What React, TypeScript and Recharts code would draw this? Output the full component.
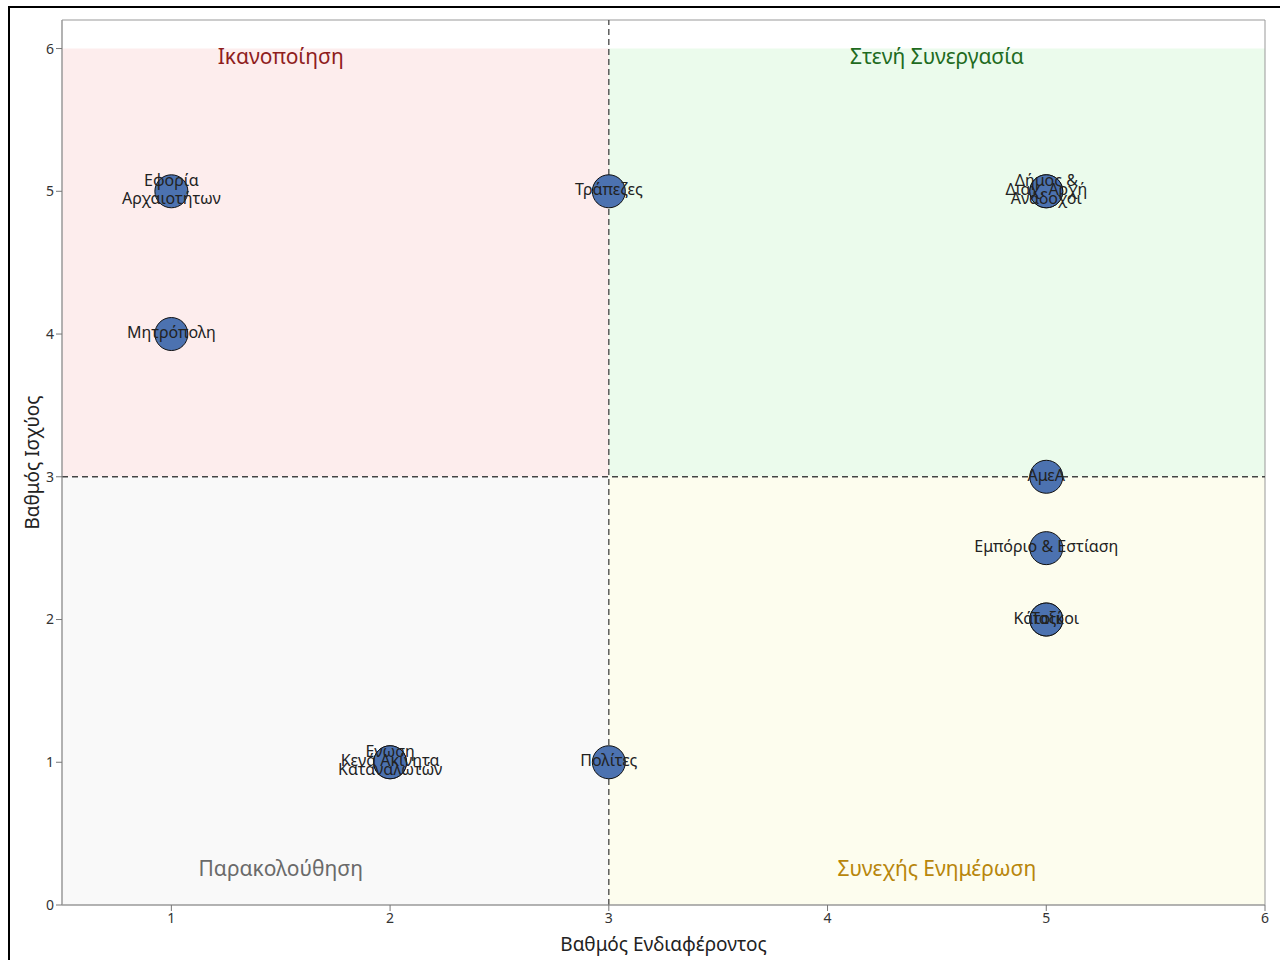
import React from 'react';
import {
  ScatterChart,
  Scatter,
  XAxis,
  YAxis,
  ReferenceArea,
  ReferenceLine,
  ReferenceDot,
} from 'recharts';

// ---- data ----
const stakeholderNames = [
  'Εφορία\nΑρχαιοτήτων',
  'Μητρόπολη',
  'Τράπεζες',
  'Δήμος &\nΑνάδοχοι',
  'Διαχ. Αρχή',
  'ΑμεΑ',
  'Εμπόριο & Εστίαση',
  'Κάτοικοι',
  'Ταξί',
  'Ενωση\nΚαταναλωτών',
  'Κενά Ακίνητα',
  'Πολίτες',
];
const interestValues = [1, 1, 3, 5, 5, 5, 5, 5, 5, 2, 2, 3];
const powerValues = [5, 4, 5, 5, 5, 3, 2.5, 2, 2, 1, 1, 1];

const xTicks = [1, 2, 3, 4, 5, 6];
const yTicks = [0, 1, 2, 3, 4, 5, 6];
const xDomain: [number, number] = [0.5, 6];
const yDomain: [number, number] = [0, 6.2];
const midValue = 3;
const quadrantTop = 6;

const quadrantNames = ['Ικανοποίηση', 'Στενή Συνεργασία', 'Παρακολούθηση', 'Συνεχής Ενημέρωση'];
const quadrantLabelX = [1.5, 4.5, 1.5, 4.5];
const quadrantLabelY = [5.95, 5.95, 0.26, 0.26];

const points = stakeholderNames.map((name, i) => ({
  name,
  x: interestValues[i],
  y: powerValues[i],
}));

const FONT = "'Noto Sans', 'DejaVu Sans', sans-serif";
const quadrantColors = ['#8f1d1d', '#1f6b1f', '#6a6a6a', '#b8860b'];

const CircleShape = (props: any) => {
  const { cx, cy } = props;
  if (cx == null || cy == null) return null;
  return <circle cx={cx} cy={cy} r={16.5} fill="#4c72b0" stroke="#111" strokeWidth={1} />;
};

const LabelShape = (props: any) => {
  const { cx, cy, payload } = props;
  if (cx == null || cy == null) return null;
  const lines: string[] = String(payload.name).split('\n');
  const lh = 18;
  const start = cy - 2 - ((lines.length - 1) * lh) / 2;
  return (
    <g>
      {lines.map((l, i) => (
        <text
          key={i}
          x={cx}
          y={start + i * lh}
          textAnchor="middle"
          dominantBaseline="central"
          fontSize={16}
          fontFamily={FONT}
          fill="#222"
        >
          {l}
        </text>
      ))}
    </g>
  );
};

const YLabel = (props: any) => {
  const vb = props.viewBox || { y: 20, height: 885 };
  const x = 32;
  const y = vb.y + vb.height / 2;
  return (
    <text
      x={x}
      y={y}
      transform={`rotate(-90 ${x} ${y})`}
      textAnchor="middle"
      dominantBaseline="central"
      fontSize={19}
      fontFamily={FONT}
      fill="#222"
    >
      Βαθμός Ισχύος
    </text>
  );
};

export default function App() {
  return (
    <div style={{ position: 'absolute', left: 0, top: 0, width: 1280, height: 960, overflow: 'hidden' }}>
      <div style={{ position: 'absolute', left: 0, top: 0, width: 1280, height: 960 }}>
        <ScatterChart
          width={1280}
          height={960}
          margin={{ top: 20, right: 15, bottom: 0, left: 0 }}
          style={{ fontFamily: FONT }}
        >
          <XAxis
            type="number"
            dataKey="x"
            domain={xDomain}
            ticks={xTicks}
            allowDataOverflow
            height={55}
            stroke="#999"
            tickLine={{ stroke: '#777' }}
            tick={{ fontSize: 14, fill: '#333', fontFamily: FONT }}
            label={{
              value: 'Βαθμός Ενδιαφέροντος',
              position: 'insideBottom',
              offset: 9,
              fontSize: 19,
              fill: '#222',
              fontFamily: FONT,
            }}
          />
          <YAxis
            type="number"
            dataKey="y"
            domain={yDomain}
            ticks={yTicks}
            allowDataOverflow
            width={62}
            stroke="#999"
            tickLine={{ stroke: '#777' }}
            tick={{ fontSize: 14, fill: '#333', fontFamily: FONT }}
            label={<YLabel />}
          />
          <ReferenceArea x1={xDomain[0]} x2={midValue} y1={midValue} y2={quadrantTop} fill="#fdeded" fillOpacity={1} stroke="none" />
          <ReferenceArea x1={midValue} x2={xDomain[1]} y1={midValue} y2={quadrantTop} fill="#ebfbec" fillOpacity={1} stroke="none" />
          <ReferenceArea x1={xDomain[0]} x2={midValue} y1={yDomain[0]} y2={midValue} fill="#f9f9f9" fillOpacity={1} stroke="none" />
          <ReferenceArea x1={midValue} x2={xDomain[1]} y1={yDomain[0]} y2={midValue} fill="#fdfdee" fillOpacity={1} stroke="none" />
          <ReferenceArea x1={xDomain[0]} x2={xDomain[1]} y1={yDomain[0]} y2={yDomain[1]} fill="none" stroke="#999" strokeWidth={1} />
          <ReferenceLine x={midValue} stroke="#444" strokeDasharray="6 4" strokeWidth={1.3} />
          <ReferenceLine y={midValue} stroke="#444" strokeDasharray="6 4" strokeWidth={1.3} />
          {quadrantNames.map((q, i) => (
            <ReferenceDot
              key={q}
              x={quadrantLabelX[i]}
              y={quadrantLabelY[i]}
              r={1}
              shape={(p: any) => (
                <text
                  x={p.cx}
                  y={p.cy}
                  textAnchor="middle"
                  dominantBaseline="central"
                  fontSize={21}
                  fontFamily={FONT}
                  fill={quadrantColors[i]}
                >
                  {q}
                </text>
              )}
            />
          ))}
          <Scatter data={points} shape={<CircleShape />} isAnimationActive={false} />
          <Scatter data={points} shape={<LabelShape />} isAnimationActive={false} />
        </ScatterChart>
      </div>
      <div style={{ position: 'absolute', left: 8, top: 6, width: 1272, height: 2, background: '#000' }} />
      <div style={{ position: 'absolute', left: 8, top: 6, width: 2, height: 954, background: '#000' }} />
    </div>
  );
}
